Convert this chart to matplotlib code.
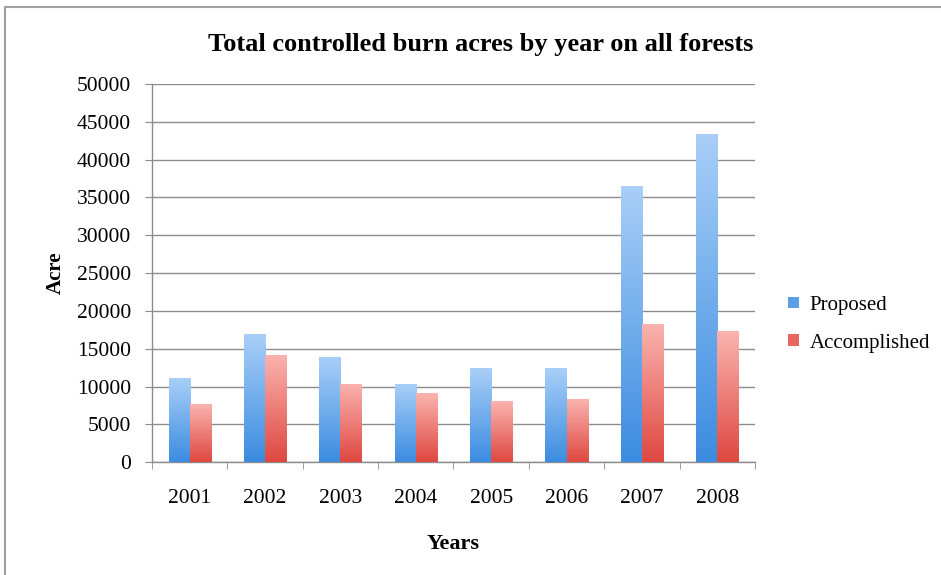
import numpy as np
import matplotlib
matplotlib.use('Agg')
import matplotlib.pyplot as plt
from matplotlib.colors import LinearSegmentedColormap
from matplotlib.lines import Line2D

years = ['2001', '2002', '2003', '2004', '2005', '2006', '2007', '2008']
proposed = [11100, 16900, 13900, 10400, 12400, 12400, 36500, 43400]
accomplished = [7650, 14150, 10400, 9100, 8050, 8350, 18300, 17300]
yticks = [0, 5000, 10000, 15000, 20000, 25000, 30000, 35000, 40000, 45000, 50000]

plt.rcParams['font.family'] = ['Liberation Serif', 'DejaVu Serif']

blue_cm = LinearSegmentedColormap.from_list('b', ['#3b8ce0', '#a9cff8'])
red_cm = LinearSegmentedColormap.from_list('r', ['#df4740', '#fab4b0'])

fig = plt.figure(figsize=(9.41, 5.75), dpi=100)
ax = fig.add_axes([0.1615, 0.196, 0.6408, 0.658])

x = np.arange(len(years))
w = 0.28
grad = np.linspace(0, 1, 256).reshape(-1, 1)


def gradient_bars(vals, offset, cmap):
    bars = ax.bar(x + offset, vals, w, facecolor='none', edgecolor='none', zorder=3)
    for b in bars:
        x0, y0 = b.get_x(), b.get_y()
        im = ax.imshow(grad, cmap=cmap, origin='lower', aspect='auto',
                       extent=[x0, x0 + b.get_width(), y0, y0 + b.get_height()],
                       zorder=3)
        im.set_clip_path(b)
    return bars


gradient_bars(proposed, -w / 2, blue_cm)
gradient_bars(accomplished, w / 2, red_cm)

ax.set_xlim(-0.5, len(years) - 0.5)
ax.set_ylim(0, 50000)
ax.set_yticks(yticks)
ax.set_yticklabels([str(v) for v in yticks], fontsize=15.5)
ax.set_xticks(x)
ax.set_xticklabels(years, fontsize=15.5)
ax.set_xticks(np.arange(len(years) + 1) - 0.5, minor=True)
ax.tick_params(axis='x', which='major', length=0, pad=19)
ax.tick_params(axis='x', which='minor', length=5, color='#8c8c8c')
ax.tick_params(axis='y', length=5, color='#8c8c8c', pad=10)

ax.grid(axis='y', color='#8c8c8c', linewidth=1, zorder=0)
ax.set_axisbelow(True)
for s in ['top', 'right']:
    ax.spines[s].set_visible(False)
for s in ['left', 'bottom']:
    ax.spines[s].set_color('#8c8c8c')
    ax.spines[s].set_linewidth(1)

# title sits right of the plot centre in the original
fig.text(481 / 941, 1 - 44 / 575, 'Total controlled burn acres by year on all forests',
         fontsize=19, fontweight='bold', ha='center', va='center')
ax.set_xlabel('Years', fontsize=16, fontweight='bold', labelpad=19)
ax.set_ylabel('Acre', fontsize=15, fontweight='bold', labelpad=8)

handles = [plt.Rectangle((0, 0), 1, 1, facecolor='#5a9fe6'),
           plt.Rectangle((0, 0), 1, 1, facecolor='#e86560')]
fig.legend(handles, ['Proposed', 'Accomplished'], loc='center left',
           bbox_to_anchor=(0.818, 0.436), frameon=False, fontsize=15,
           handlelength=0.5, handleheight=0.5, handletextpad=0.5,
           labelspacing=0.9)

# outer frame (top and left edges)
fig.add_artist(Line2D([5 / 941, 1], [1 - 7 / 575, 1 - 7 / 575],
                      transform=fig.transFigure, color='#a0a0a0', lw=1.5))
fig.add_artist(Line2D([5 / 941, 5 / 941], [0, 1 - 7 / 575],
                      transform=fig.transFigure, color='#a0a0a0', lw=1.5))

fig.savefig('out.png', dpi=100)
